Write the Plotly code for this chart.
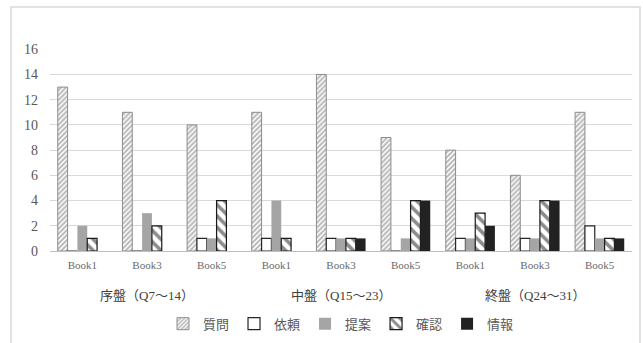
import plotly.graph_objects as go

books = ["Book1", "Book3", "Book5"] * 3
groups = ["序盤（Q7～14）", "中盤（Q15～23）", "終盤（Q24～31）"]
series_names = ["質問", "依頼", "提案", "確認", "情報"]
shitsumon = [13, 11, 10, 11, 14, 9, 8, 6, 11]
irai = [0, 0, 1, 1, 1, 0, 1, 1, 2]
teian = [2, 3, 1, 4, 1, 1, 1, 1, 1]
kakunin = [1, 2, 4, 1, 1, 4, 3, 4, 1]
jouhou = [0, 0, 0, 0, 1, 4, 2, 4, 1]
y_ticks = [0, 2, 4, 6, 8, 10, 12, 14, 16]

xs = list(range(len(books)))
values = [shitsumon, irai, teian, kakunin, jouhou]
styles = [
    dict(color="white", line=dict(color="#8c8c8c", width=1),
         pattern=dict(shape="/", fgcolor="#6e6e6e", bgcolor="white", size=3.5, solidity=0.55)),
    dict(color="white", line=dict(color="#262626", width=1.2)),
    dict(color="#a5a5a5", line=dict(color="#a5a5a5", width=0)),
    dict(color="white", line=dict(color="#1a1a1a", width=1.2),
         pattern=dict(shape="\\", fgcolor="#1a1a1a", bgcolor="white", size=8, solidity=0.45)),
    dict(color="#222222", line=dict(color="#222222", width=0)),
]

fig = go.Figure()
for name, vals, st in zip(series_names, values, styles):
    fig.add_trace(go.Bar(x=xs, y=vals, name=name, marker=st))

font_fam = "Liberation Serif, DejaVu Serif, Noto Sans CJK JP"
fig.update_layout(
    width=643, height=343,
    margin=dict(l=50, r=11, t=49, b=92, autoexpand=False),
    paper_bgcolor="white", plot_bgcolor="white",
    barmode="group", bargap=0.24, bargroupgap=0,
    font=dict(family=font_fam, color="#595959"),
    xaxis=dict(tickvals=xs, ticktext=books, range=[-0.5, 8.5],
               showgrid=False, showline=True, linecolor="#bfbfbf", linewidth=1,
               ticks="", ticklabelstandoff=4, tickfont=dict(size=11, color="#6a6a6a")),
    yaxis=dict(range=[0, 16.02], tickvals=y_ticks, showgrid=True, gridcolor="#d9d9d9",
               gridwidth=1, zeroline=False, showline=False, ticks="",
               ticklabelstandoff=11, tickfont=dict(size=14, color="#595959")),
    legend=dict(orientation="h", x=0.5, xanchor="center", y=-0.36, yanchor="middle",
                font=dict(size=13, family="Noto Sans CJK JP", color="#595959"),
                itemwidth=30, traceorder="normal"),
    showlegend=True,
)

for i, g in enumerate(groups):
    fig.add_annotation(x=3 * i + 1, y=-0.22, xref="x", yref="paper", text=g,
                       showarrow=False, yanchor="middle",
                       font=dict(size=13, family=font_fam, color="#404040"))

fig.add_shape(type="rect", xref="paper", yref="paper",
              x0=-0.067, x1=1.0137, y0=-0.6, y1=1.208,
              line=dict(color="#d9d9d9", width=1.5), fillcolor="rgba(0,0,0,0)", layer="below")

fig.write_html("out.html")
